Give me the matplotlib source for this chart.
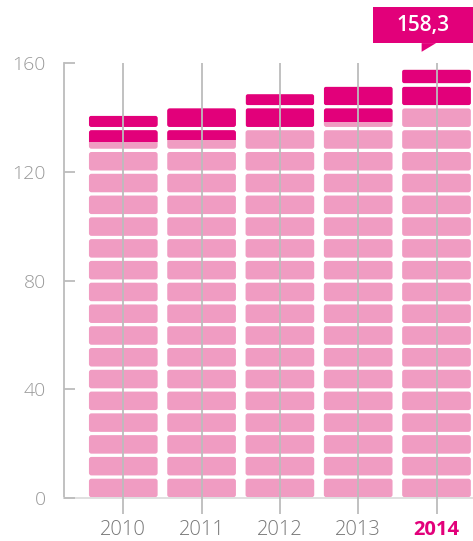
import matplotlib
matplotlib.use("Agg")
import matplotlib.pyplot as plt
from matplotlib.patches import FancyBboxPatch, Rectangle, Polygon

years = ["2010", "2011", "2012", "2013", "2014"]
base_part = [131.0, 131.6, 136.0, 138.3, 144.0]   # pink
totals = [141.3, 144.1, 149.2, 152.6, 158.3]      # pink + magenta
yticks = [0, 40, 80, 120, 160]

PINK = "#f09cc2"
MAGENTA = "#e2007a"
GRID = "#bcbcbc"

plt.rcParams["font.family"] = ["Open Sans", "DejaVu Sans"]

fig = plt.figure(figsize=(4.73, 5.41), dpi=100)
ax = fig.add_axes([64 / 473, 42.7 / 541, 409 / 473, 435.6 / 541])
ax.set_xlim(-0.757, 4.466)
ax.set_ylim(0, 160)

step = 8
width = 0.877
aspect = 28.7
for i, (p, t) in enumerate(zip(base_part, totals)):
    k = 0
    while k * step < t:
        lo = k * step + 0.4
        hi = min(k * step + step, t) - 0.8
        k += 1
        if hi <= lo:
            continue
        block = FancyBboxPatch((i - width / 2, lo), width, hi - lo,
                               boxstyle="round,pad=0,rounding_size=0.032",
                               mutation_aspect=aspect, fc=PINK, ec="none",
                               zorder=1)
        ax.add_patch(block)
        if hi > p:
            top = Rectangle((i - width / 2, max(lo, p)), width, hi - max(lo, p),
                            fc=MAGENTA, ec="none", zorder=1.1)
            ax.add_patch(top)
            top.set_clip_path(block)

# value label on the last bar
i = len(years) - 1
t = totals[-1]
ax.add_patch(Rectangle((i - 0.807, t + 8.8), 1.3, 13.2, fc=MAGENTA, ec="none",
                       clip_on=False, zorder=3))
ax.add_patch(Polygon([(i - 0.19, t + 8.9), (i - 0.19, t + 5.7), (i - 0.005, t + 8.9)],
                     closed=True, fc=MAGENTA, ec="none", clip_on=False, zorder=3))
ax.text(i - 0.176, t + 15.5, f"{t:.1f}".replace(".", ","), color="white",
        fontsize=15, fontweight="semibold", ha="center", va="center", zorder=4)

# axes styling
ax.set_axisbelow(False)
ax.set_xticks(range(len(years)))
ax.set_xticklabels(years)
ax.grid(axis="x", color=GRID, linewidth=1.3)
ax.set_yticks(yticks)
for s in ["top", "right"]:
    ax.spines[s].set_visible(False)
ax.spines["left"].set_color(GRID)
ax.spines["left"].set_linewidth(1.3)
ax.spines["bottom"].set_color("#dddddd")
ax.spines["bottom"].set_linewidth(1.3)
ax.tick_params(axis="x", length=11.5, width=1.3, color=GRID, pad=4,
               labelsize=14.5, labelcolor="#777777")
ax.tick_params(axis="y", direction="in", length=8, width=1.3, color=GRID, pad=13,
               labelsize=14, labelcolor="#999999")
for lab in ax.get_xticklabels():
    lab.set_fontweight("light")
lab = ax.get_xticklabels()[-1]
lab.set_color(MAGENTA)
lab.set_fontweight("bold")
for lab in ax.get_yticklabels():
    lab.set_fontweight("light")

fig.savefig("out.png", dpi=100)
